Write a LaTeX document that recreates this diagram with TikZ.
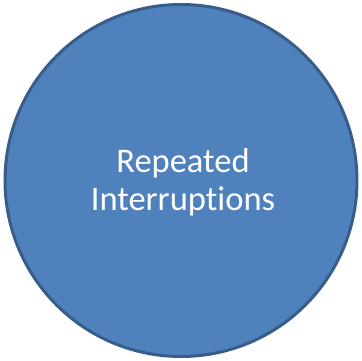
\documentclass[tikz,border=0pt]{standalone}
\usepackage{fontspec}
\setmainfont{Carlito}[Ligatures={NoCommon}]
\definecolor{fillblue}{HTML}{4F81BD}
\definecolor{edgeblue}{HTML}{385D8A}
\begin{document}
\begin{tikzpicture}[x=1pt,y=1pt,
  bubble/.style={circle,fill=fillblue,draw=edgeblue,line width=3pt,minimum size=352pt,inner sep=0pt,
    text=white,align=center,font=\fontsize{34.5}{38}\selectfont}]
\useasboundingbox (0,0) rectangle (362,360);
\node[bubble] (c) at (181,179.5) {};
\node[text=white,align=center,font=\fontsize{34.5}{38}\selectfont,inner sep=0pt] (t) at (183,178) {Repeated\\Interruptions};
\end{tikzpicture}
\end{document}
